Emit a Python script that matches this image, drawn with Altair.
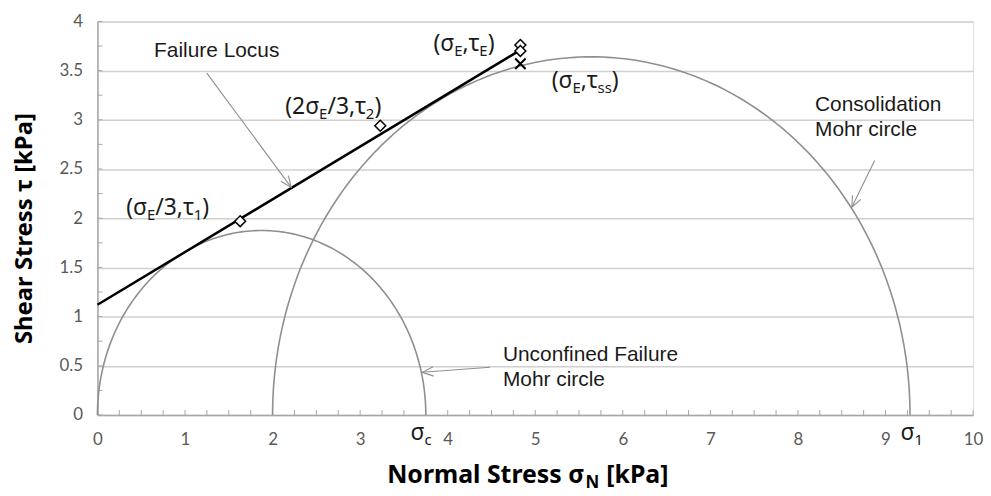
import math
import altair as alt
import pandas as pd

W, H = 881, 396
X_MAX, Y_MAX = 10, 4
PX, PY = W / X_MAX, H / Y_MAX

# ---------------- values (kPa) ----------------
circle_names = ["Unconfined Failure", "Consolidation"]
circle_left = [0.0, 2.0]
circle_right = [3.75, 9.28]

locus_x = [0.0, 4.85]
locus_y = [1.12, 3.72]

diamond_x = [1.63, 3.23, 4.83, 4.83]
diamond_y = [1.97, 2.94, 3.76, 3.70]
cross_x = [4.83]
cross_y = [3.57]

x_tick_values = [0, 1, 2, 3, 4, 5, 6, 7, 8, 9, 10]
y_tick_values = [0, 0.5, 1, 1.5, 2, 2.5, 3, 3.5, 4]
minor_x = [i * 0.25 for i in range(41)]
minor_y = [i * 0.25 for i in range(17)]

note_text = ["Failure Locus", "Unconfined Failure", "Mohr circle", "Consolidation", "Mohr circle"]
note_x = [0.647, 4.631, 4.631, 8.195, 8.195]
note_y = [3.636, 0.545, 0.293, 3.091, 2.838]

arrow_x1 = [1.249, 4.484, 8.876]
arrow_y1 = [3.475, 0.485, 2.586]
arrow_x2 = [2.213, 3.71, 8.615]
arrow_y2 = [2.313, 0.434, 2.111]

label_parts = [
    [("(σ", 0), ("E", 1), (",τ", 0), ("E", 1), (")", 0)],
    [("(σ", 0), ("E", 1), (",τ", 0), ("ss", 1), (")", 0)],
    [("(2σ", 0), ("E", 1), ("/3,τ", 0), ("2", 1), (")", 0)],
    [("(σ", 0), ("E", 1), ("/3,τ", 0), ("1", 1), (")", 0)],
    [("σ", 0), ("c", 1)],
    [("σ", 0), ("1", 1)],
]
label_x = [3.837, 5.187, 2.145, 0.329, 3.575, 9.171]
label_y = [3.697, 3.323, 3.061, 2.03, -0.253, -0.253]

# ---------------- styling ----------------
AX = "#a6a6a6"
GRID = "#d0d0d0"
CIRC = "#8f8f8f"
TXT = "#1a1a1a"
MAIN, SUB, DROP = 23, 15, 5
CW = {"(": .296, ")": .296, ",": .25, "/": .372, "σ": .612, "τ": .489,
      "E": .556, "s": .479, "c": .48}

xscale = alt.Scale(domain=[0, X_MAX], nice=False, zero=False)
yscale = alt.Scale(domain=[0, Y_MAX], nice=False, zero=False)
xaxis = alt.Axis(values=x_tick_values, labelExpr="datum.value + ''", ticks=False, tickSize=0,
                 grid=False, domainColor=AX, domainWidth=1.5, labelFont="Lato",
                 labelFontSize=17, labelColor="#595959", labelPadding=17,
                 labelFlush=False, labelOverlap=False, title="")
yaxis = alt.Axis(values=y_tick_values, labelExpr="datum.value + ''", ticks=False, tickSize=0,
                 grid=True, gridColor=GRID, gridWidth=1.5, domainColor=AX, domainWidth=1.5,
                 labelFont="Lato", labelFontSize=17, labelColor="#595959", labelPadding=15,
                 title="Shear Stress τ [kPa]", titleFont="Noto Sans", titleFontSize=24,
                 titleFontWeight="bold", titleColor="#000000", titleX=-73, titleY=208,
                 titleAlign="center", titleBaseline="middle")


def X(field="x"):
    return alt.X(f"{field}:Q", scale=xscale, axis=xaxis, title="")


def Y(field="y"):
    return alt.Y(f"{field}:Q", scale=yscale, axis=yaxis, title="Shear Stress τ [kPa]")


layers = []

# minor ticks (inward)
layers.append(alt.Chart(pd.DataFrame({"x": minor_x})).mark_rule(color=AX, strokeWidth=1).encode(
    x=X(), y=alt.value(H), y2=alt.value(H - 5)))
layers.append(alt.Chart(pd.DataFrame({"y": minor_y})).mark_rule(color=AX, strokeWidth=1).encode(
    y=Y(), x=alt.value(0), x2=alt.value(5)))

# Mohr circles
for lo, hi in zip(circle_left, circle_right):
    c, r = (lo + hi) / 2, (hi - lo) / 2
    layers.append(
        alt.Chart(alt.sequence(0, 181, 1, as_="deg"))
        .transform_calculate(x=f"{c} + {r}*cos(datum.deg*PI/180)", y=f"{r}*sin(datum.deg*PI/180)")
        .mark_line(color=CIRC, strokeWidth=1.6)
        .encode(x=X(), y=Y(), order="deg:Q"))

# failure locus
layers.append(alt.Chart(pd.DataFrame({"x": locus_x, "y": locus_y})).mark_line(
    color="black", strokeWidth=2.5).encode(x=X(), y=Y()))

# arrows
arr = pd.DataFrame({"x": arrow_x1, "y": arrow_y1, "x2": arrow_x2, "y2": arrow_y2})
layers.append(alt.Chart(arr).mark_rule(color=CIRC, strokeWidth=1.1).encode(
    x=X(), y=Y(), x2="x2:Q", y2="y2:Q"))
angles = []
for x1, y1, x2, y2 in zip(arrow_x1, arrow_y1, arrow_x2, arrow_y2):
    dx, dy = (x2 - x1) * PX, -(y2 - y1) * PY
    angles.append(math.degrees(math.atan2(dx, -dy)) % 360)
heads = pd.DataFrame({"x": arrow_x2, "y": arrow_y2, "a": angles})
layers.append(alt.Chart(heads).mark_point(
    shape="M-0.42,1L0,0L0.42,1", size=500, filled=False, stroke=CIRC, strokeWidth=1.1, opacity=1
).encode(x=X(), y=Y(), angle=alt.Angle("a:Q", scale=None)))

# points
layers.append(alt.Chart(pd.DataFrame({"x": diamond_x, "y": diamond_y})).mark_point(
    shape="diamond", size=120, filled=True, fill="white", stroke="black", strokeWidth=1.5, opacity=1
).encode(x=X(), y=Y()))
layers.append(alt.Chart(pd.DataFrame({"x": cross_x, "y": cross_y})).mark_point(
    shape="M-1,-1L1,1M1,-1L-1,1", size=110, filled=False, stroke="black", strokeWidth=2, opacity=1
).encode(x=X(), y=Y()))

# plain annotations
layers.append(alt.Chart(pd.DataFrame({"x": note_x, "y": note_y, "t": note_text})).mark_text(
    align="left", baseline="alphabetic", font="Liberation Sans", fontSize=21, color=TXT
).encode(x=X(), y=Y(), text="t:N"))

# math labels built from pieces (main text + subscripts)
rows = []
for parts, lx, ly in zip(label_parts, label_x, label_y):
    off = 0.0
    for txt, sub in parts:
        fs = SUB if sub else MAIN
        rows.append({"x": lx + off / PX, "y": ly - (DROP / PY if sub else 0), "t": txt, "s": fs})
        off += sum(CW.get(ch, 0.572) for ch in txt) * fs
layers.append(alt.Chart(pd.DataFrame(rows)).mark_text(
    align="left", baseline="alphabetic", font="Noto Sans", color=TXT
).encode(x=X(), y=Y(), text="t:N", size=alt.Size("s:Q", scale=None)))

# x axis title with subscript
one = pd.DataFrame({"k": [0]})
layers.append(alt.Chart(one).mark_text(text="Normal Stress σ", align="right", baseline="alphabetic",
    font="Noto Sans", fontWeight="bold", fontSize=25, color="#000000").encode(
    x=alt.value(490), y=alt.value(464)))
layers.append(alt.Chart(one).mark_text(text="N", align="left", baseline="alphabetic",
    font="Noto Sans", fontWeight="bold", fontSize=17, color="#000000").encode(
    x=alt.value(491), y=alt.value(469)))
layers.append(alt.Chart(one).mark_text(text="[kPa]", align="left", baseline="alphabetic",
    font="Noto Sans", fontWeight="bold", fontSize=25, color="#000000").encode(
    x=alt.value(512), y=alt.value(464)))

chart = alt.layer(*layers).properties(
    width=W, height=H,
    autosize=alt.AutoSizeParams(type="none"),
    padding={"left": 90, "top": 12, "right": 10, "bottom": 80},
).configure_view(stroke=None).configure(background="white")

chart.save("out.html", embed_options={"renderer": "svg", "actions": False})
